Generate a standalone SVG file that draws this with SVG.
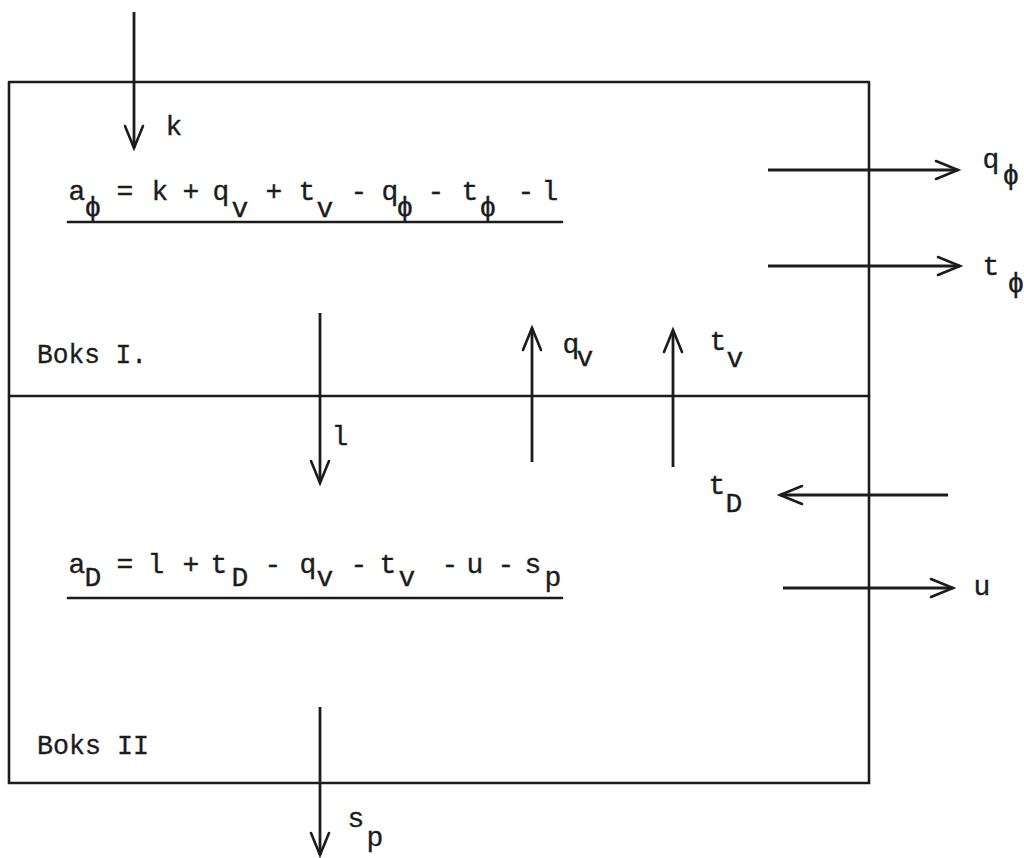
<svg xmlns="http://www.w3.org/2000/svg" width="1024" height="858" viewBox="0 0 1024 858">
  <style>
    .ln { stroke: #1c1c1c; stroke-width: 2.6; fill: none; stroke-linecap: round; }
    .ar { stroke: #1c1c1c; stroke-width: 2.8; fill: none; marker-end: url(#v); }
    .t { font-family: "Liberation Mono", "Courier New", monospace; font-size: 28px; fill: #1c1c1c; stroke: #1c1c1c; stroke-width: 0.35; }
    .m { text-anchor: middle; }
  </style>
  <defs>
    <marker id="v" markerUnits="userSpaceOnUse" viewBox="-24 -11 26 22" refX="0" refY="0" markerWidth="26" markerHeight="22" orient="auto" overflow="visible">
      <path d="M -22 -9 L 0 0 L -22 9" stroke="#1c1c1c" stroke-width="2.6" fill="none" stroke-linecap="round" stroke-linejoin="miter"/>
    </marker>
  </defs>
  <rect width="1024" height="858" fill="#ffffff"/>

  <g id="boks-I">
    <path class="ln" d="M 9 82 L 869 82 M 9 82 L 9 396 M 869 82 L 869 396 M 9 396 L 869 396"/>
    <text class="t" x="37" y="363" textLength="110" lengthAdjust="spacingAndGlyphs">Boks I.</text>
    <g id="eq1">
      <text class="t m"><tspan x="77" y="200">a</tspan><tspan x="93" y="216">ϕ</tspan><tspan x="125" y="200">=</tspan><tspan x="160" y="200">k</tspan><tspan x="191" y="200">+</tspan><tspan x="221" y="200">q</tspan><tspan x="240" y="217">v</tspan><tspan x="274" y="200">+</tspan><tspan x="307" y="200">t</tspan><tspan x="325" y="217">v</tspan><tspan x="359" y="200">-</tspan><tspan x="390" y="200">q</tspan><tspan x="405" y="216">ϕ</tspan><tspan x="436" y="200">-</tspan><tspan x="470" y="200">t</tspan><tspan x="488" y="216">ϕ</tspan><tspan x="526" y="200">-</tspan><tspan x="550" y="200">l</tspan></text>
      <path class="ln" d="M 68 222 L 562 222"/>
    </g>
  </g>

  <g id="boks-II">
    <path class="ln" d="M 9 396 L 9 783 L 869 783 L 869 396"/>
    <text class="t" x="37" y="754" textLength="112" lengthAdjust="spacingAndGlyphs">Boks II</text>
    <g id="eq2">
      <text class="t m"><tspan x="77" y="573">a</tspan><tspan x="93" y="586">D</tspan><tspan x="125" y="573">=</tspan><tspan x="156" y="573">l</tspan><tspan x="191" y="573">+</tspan><tspan x="219" y="573">t</tspan><tspan x="240" y="586">D</tspan><tspan x="273" y="573">-</tspan><tspan x="308" y="573">q</tspan><tspan x="325" y="586">v</tspan><tspan x="359" y="573">-</tspan><tspan x="388" y="573">t</tspan><tspan x="407" y="586">v</tspan><tspan x="450" y="573">-</tspan><tspan x="475" y="573">u</tspan><tspan x="506" y="573">-</tspan><tspan x="533" y="573">s</tspan><tspan x="553" y="586">p</tspan></text>
      <path class="ln" d="M 68 598 L 562 598"/>
    </g>
  </g>

  <g id="connectors">
    <path class="ar" d="M 134 12 L 134 148"/>
    <path class="ar" d="M 320 313 L 320 483"/>
    <path class="ar" d="M 532 462 L 532 328"/>
    <path class="ar" d="M 673 467 L 673 330"/>
    <path class="ar" d="M 320 707 L 320 855"/>
    <path class="ar" d="M 768 170 L 958 170"/>
    <path class="ar" d="M 768 266 L 960 266"/>
    <path class="ar" d="M 948 495 L 780 495"/>
    <path class="ar" d="M 783 588 L 953 588"/>
  </g>

  <g id="labels">
    <text class="t m" x="174" y="135">k</text>
    <text class="t m" x="340" y="445">l</text>
    <text class="t m"><tspan x="571" y="353">q</tspan><tspan x="585" y="366">v</tspan></text>
    <text class="t m"><tspan x="718" y="350">t</tspan><tspan x="735" y="367">v</tspan></text>
    <text class="t m"><tspan x="991" y="168">q</tspan><tspan x="1011" y="184">ϕ</tspan></text>
    <text class="t m"><tspan x="991" y="275">t</tspan><tspan x="1016" y="292">ϕ</tspan></text>
    <text class="t m"><tspan x="717" y="494">t</tspan><tspan x="734" y="512">D</tspan></text>
    <text class="t m" x="982" y="595">u</text>
    <text class="t m"><tspan x="356" y="827">s</tspan><tspan x="375" y="846">p</tspan></text>
  </g>
</svg>
